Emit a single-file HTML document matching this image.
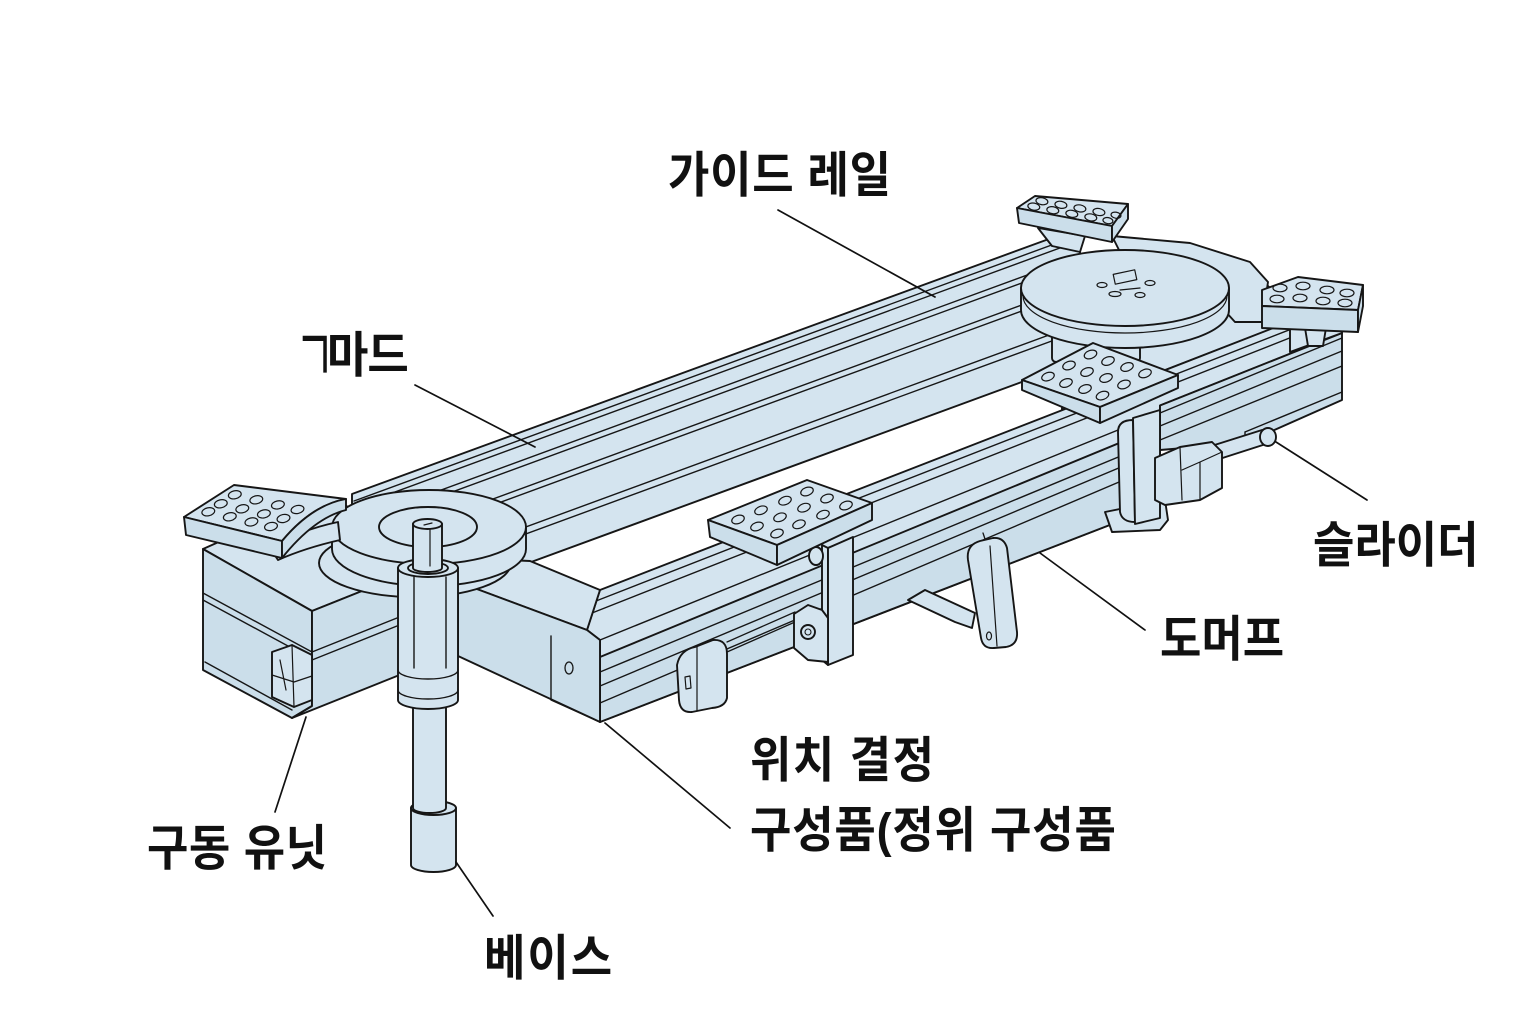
<!DOCTYPE html>
<html><head><meta charset="utf-8"><style>
html,body{margin:0;padding:0;background:#fff;}
svg{display:block}
.lb{font-family:"Liberation Sans","Noto Sans CJK KR",sans-serif;font-size:45px;font-weight:700;fill:#111;}
</style></head><body>
<svg width="1536" height="1024" viewBox="0 0 1536 1024" xmlns="http://www.w3.org/2000/svg">
<rect width="1536" height="1024" fill="#fff"/>
<g stroke="#161616" stroke-width="1.9" stroke-linejoin="round" stroke-linecap="round" fill="#d4e4ef">

<!-- back rail -->
<polygon points="352,494 1080,227.6 1080,360.6 352,627.8"/>
<path fill="none" stroke-width="1.4" d="M354,501 L1080,234.6 M354,507 L1080,240.6 M354,522 L1080,255.6 M354,528 L1080,261.6 M354,550 L1080,283.6 M354,556 L1080,289.6 M354,590 L1080,323.6 M354,597 L1080,330.6"/>

<!-- right cross piece (under disc) -->
<polygon points="1062,300 1250,268 1300,318 1062,410"/>

<!-- front rail -->
<polygon points="600,590 1300,317.6 1300,349.9 1160,405.5 1160,505.6 600,722 600,640 587,630"/>
<polygon fill="#cbdeea" points="600,657 1160,426.2 1160,505.6 600,722"/>
<path fill="none" stroke-width="1.4" d="M596,601 L1300,325.7 M592,613 L1300,333.9 M600,640 L1160,413 M600,672 L1160,439.7 M600,686 L1160,450.6 M600,703 L1160,464.6 M587,630 L600,640"/>
<path fill="none" stroke-width="1.3" d="M727,642 L795,612 M727,652 L795,622"/>

<!-- right block -->
<polygon fill="#cbdeea" points="1160,405.5 1342,333 1342,400 1245,443 1160,450"/>
<polygon points="1290,318 1342,318 1342,333 1290,352"/>
<path fill="none" stroke-width="1.4" d="M1160,413 L1342,338 M1160,426 L1342,351 M1160,440 L1342,366 M1245,432 L1342,392 M1245,432 L1245,443"/>

<!-- box (drive unit) -->
<polygon points="203,549 250,528 345,505 420,556 420,568 402,575 312,611"/>
<polygon fill="#cbdeea" points="203,549 312,611 312,706 292,718 203,670"/>
<polygon fill="#cbdeea" points="312,611 402,575 402,674 292,718 312,706"/>
<path fill="none" stroke-width="1.4" d="M203,593 L312,652 M203,600 L312,659 M205,662 L292,710 M312,652 L402,616 M312,660 L402,624"/>
<polygon points="272,652 292,645 312,655 312,700 294,707 272,697"/>
<path fill="none" stroke-width="1.2" d="M292,645 L294,707 M272,675 L294,682 L312,676 M280,660 L286,690"/>

<!-- left cross piece -->
<polygon points="420,556 530,561 600,590 587,630 458,582 420,568"/>
<polygon fill="#cbdeea" points="458,582 587,630 600,640 600,722 458,656"/>
<path fill="none" stroke-width="1.4" d="M551,636 L551,700 L600,722"/>
<ellipse cx="569" cy="668" rx="4" ry="6" fill="none" stroke-width="1.3"/>

<!-- plate around right disc -->
<polygon points="1112,236 1190,243 1250,262 1268,282 1262,322 1235,322 1215,300 1195,262 1120,252"/>

<!-- top-right pad -->
<polygon points="1038,228 1085,236 1080,252 1052,246"/>
<polygon points="1017,208 1035,196 1128,204 1112,226"/>
<polygon fill="#cbdeea" points="1017,208 1112,226 1112,242 1019,223"/>
<polygon fill="#cbdeea" points="1112,226 1128,204 1128,219 1112,242"/>
<g fill="none" stroke-width="1.2">
<ellipse cx="1033.8" cy="206.6" rx="6" ry="3.5" transform="rotate(10 1033.8 206.6)"/>
<ellipse cx="1052.8" cy="210.2" rx="6" ry="3.5" transform="rotate(10 1052.8 210.2)"/>
<ellipse cx="1071.8" cy="213.8" rx="6" ry="3.5" transform="rotate(10 1071.8 213.8)"/>
<ellipse cx="1090.8" cy="217.4" rx="6" ry="3.5" transform="rotate(10 1090.8 217.4)"/>
<ellipse cx="1107.9" cy="220.6" rx="5" ry="3" transform="rotate(10 1107.9 220.6)"/>
<ellipse cx="1041.9" cy="201.2" rx="6" ry="3.5" transform="rotate(10 1041.9 201.2)"/>
<ellipse cx="1060.9" cy="204.8" rx="6" ry="3.5" transform="rotate(10 1060.9 204.8)"/>
<ellipse cx="1079.9" cy="208.4" rx="6" ry="3.5" transform="rotate(10 1079.9 208.4)"/>
<ellipse cx="1098.9" cy="212" rx="6" ry="3.5" transform="rotate(10 1098.9 212)"/>
<ellipse cx="1116" cy="215.2" rx="5" ry="3" transform="rotate(10 1116 215.2)"/>
</g>

<!-- hub & right disc -->
<rect x="1052" y="318" width="88" height="44" rx="4"/>
<path d="M1021,288 L1021,310 A104,38 0 0 0 1229,310 L1229,288 Z"/>
<ellipse cx="1125" cy="288" rx="104" ry="38"/>
<path fill="none" stroke-width="1.2" d="M1023,296 A102,37 0 0 0 1227,296"/>
<g fill="none" stroke-width="1.2">
<rect x="1114" y="272" width="22" height="10" transform="rotate(-12 1125 277)"/>
<ellipse cx="1102" cy="285" rx="5" ry="2.5"/>
<ellipse cx="1150" cy="283" rx="5" ry="2.5"/>
<ellipse cx="1115" cy="294" rx="6" ry="2.5"/>
<ellipse cx="1140" cy="295" rx="5" ry="2.5"/>
<path d="M1120,290 L1140,288"/>
</g>

<!-- center pad bracket -->
<polygon points="1105,512 1165,500 1168,520 1160,530 1112,532"/>
<path d="M1133,420 Q1118,420 1118,432 L1120,512 Q1122,522 1135,522 Z"/>
<polygon points="1133,418 1160,410 1160,518 1135,524"/>

<!-- center pad -->
<polygon points="1022,380 1093,343 1178,375 1100,407"/>
<polygon fill="#cbdeea" points="1022,380 1100,407 1100,423 1022,390"/>
<polygon fill="#cbdeea" points="1100,407 1178,375 1178,388 1100,423"/>
<g fill="none" stroke-width="1.2">
<ellipse cx="1048" cy="376.6" rx="6.5" ry="4" transform="rotate(-20 1048 376.6)"/>
<ellipse cx="1069" cy="365.5" rx="6.5" ry="4" transform="rotate(-20 1069 365.5)"/>
<ellipse cx="1090.5" cy="354.5" rx="6.5" ry="4" transform="rotate(-20 1090.5 354.5)"/>
<ellipse cx="1066" cy="383" rx="6.5" ry="4" transform="rotate(-20 1066 383)"/>
<ellipse cx="1087" cy="372" rx="6.5" ry="4" transform="rotate(-20 1087 372)"/>
<ellipse cx="1108" cy="361" rx="6.5" ry="4" transform="rotate(-20 1108 361)"/>
<ellipse cx="1085" cy="389" rx="6.5" ry="4" transform="rotate(-20 1085 389)"/>
<ellipse cx="1106" cy="378" rx="6.5" ry="4" transform="rotate(-20 1106 378)"/>
<ellipse cx="1127" cy="367" rx="6.5" ry="4" transform="rotate(-20 1127 367)"/>
<ellipse cx="1102.5" cy="395.6" rx="6.5" ry="4" transform="rotate(-20 1102.5 395.6)"/>
<ellipse cx="1124" cy="384.5" rx="6.5" ry="4" transform="rotate(-20 1124 384.5)"/>
<ellipse cx="1145" cy="373.4" rx="6.5" ry="4" transform="rotate(-20 1145 373.4)"/>
</g>

<!-- right pad -->
<polygon points="1305,328 1326,328 1323,346 1308,346"/>
<polygon points="1262,290 1298,277 1363,285 1358,310 1262,306"/>
<polygon fill="#cbdeea" points="1262,306 1358,310 1358,332 1262,328"/>
<polygon fill="#cbdeea" points="1358,310 1363,285 1363,306 1358,332"/>
<g fill="none" stroke-width="1.2">
<ellipse cx="1280" cy="288" rx="7" ry="3.8"/>
<ellipse cx="1303" cy="286" rx="7" ry="3.8"/>
<ellipse cx="1327" cy="290" rx="7" ry="3.8"/>
<ellipse cx="1347" cy="293" rx="7" ry="3.8"/>
<ellipse cx="1277" cy="299" rx="7" ry="3.8"/>
<ellipse cx="1300" cy="298" rx="7" ry="3.8"/>
<ellipse cx="1323" cy="301" rx="7" ry="3.8"/>
<ellipse cx="1345" cy="303" rx="7" ry="3.8"/>
</g>

<!-- slider -->
<polygon points="1205,448 1262,430 1266,444 1210,462"/>
<ellipse cx="1268" cy="437" rx="8" ry="9"/>
<polygon points="1155,458 1180,447 1212,442 1222,452 1222,488 1200,500 1165,505 1155,500"/>
<path fill="none" stroke-width="1.2" d="M1180,447 L1182,500 M1200,462 L1222,452 M1182,470 L1200,462 L1200,500"/>

<!-- underside link + handle -->
<polygon points="908,600 925,590 975,613 972,628 955,622"/>
<path fill="none" stroke-width="1.3" d="M983,533 L986,542"/>
<path d="M968,560 Q966,545 980,541 L993,538 Q1004,537 1007,548 L1017,632 Q1018,645 1006,647 L994,648 Q983,649 981,638 Z"/>
<path fill="none" stroke-width="1.2" d="M990,546 L997,646"/>
<ellipse cx="989" cy="636" rx="2.5" ry="4" fill="none" stroke-width="1.2"/>

<!-- left-middle pad bracket, hinge, latch -->
<polygon points="822,545 828,548 828,665 822,660"/>
<polygon points="828,548 853,537 853,655 828,665"/>
<polygon points="794,614 808,605 822,610 828,618 828,662 808,660 794,648"/>
<circle cx="808" cy="632" r="7"/>
<circle cx="808" cy="632" r="3" fill="none" stroke-width="1.1"/>
<ellipse cx="816" cy="556" rx="7" ry="9"/>
<path d="M677,665 Q680,650 695,647 L713,640 Q727,639 727,654 L727,698 Q725,707 712,708 L692,712 Q680,713 679,700 Z"/>
<path fill="none" stroke-width="1.2" d="M697,646 L697,711"/>
<path fill="none" stroke-width="1.2" d="M685,677 L690,676 L691,688 L686,689 Z"/>

<!-- left-middle pad -->
<polygon points="708,520 807,480 872,503 777,545"/>
<polygon fill="#cbdeea" points="708,520 777,545 777,565 710,537"/>
<polygon fill="#cbdeea" points="777,545 872,503 872,520 777,565"/>
<g fill="none" stroke-width="1.2">
<ellipse cx="738" cy="519.5" rx="6.5" ry="4" transform="rotate(-20 738 519.5)"/>
<ellipse cx="761" cy="510.3" rx="6.5" ry="4" transform="rotate(-20 761 510.3)"/>
<ellipse cx="785" cy="500.7" rx="6.5" ry="4" transform="rotate(-20 785 500.7)"/>
<ellipse cx="807" cy="491.5" rx="6.5" ry="4" transform="rotate(-20 807 491.5)"/>
<ellipse cx="757" cy="526.5" rx="6.5" ry="4" transform="rotate(-20 757 526.5)"/>
<ellipse cx="780" cy="517.3" rx="6.5" ry="4" transform="rotate(-20 780 517.3)"/>
<ellipse cx="804" cy="507.7" rx="6.5" ry="4" transform="rotate(-20 804 507.7)"/>
<ellipse cx="827" cy="498.5" rx="6.5" ry="4" transform="rotate(-20 827 498.5)"/>
<ellipse cx="777" cy="533.5" rx="6.5" ry="4" transform="rotate(-20 777 533.5)"/>
<ellipse cx="799" cy="524.3" rx="6.5" ry="4" transform="rotate(-20 799 524.3)"/>
<ellipse cx="823" cy="514.7" rx="6.5" ry="4" transform="rotate(-20 823 514.7)"/>
<ellipse cx="846" cy="505.5" rx="6.5" ry="4" transform="rotate(-20 846 505.5)"/>
</g>

<!-- left disc -->
<ellipse cx="415" cy="563" rx="96" ry="34"/>
<path d="M332,527 L332,549 A97,37 0 0 0 526,549 L526,527 Z"/>
<ellipse cx="429" cy="527" rx="97" ry="37"/>
<ellipse cx="428" cy="527" rx="49" ry="20" fill="none"/>

<!-- left pad with belt -->
<path d="M270,548 Q300,530 338,522 L340,540 Q305,548 278,560 Z"/>
<path d="M184,517 L234,485 L346,499 Q312,505 282,541 Z"/>
<polygon fill="#cbdeea" points="184,517 282,541 282,558 186,535"/>
<path fill="#cbdeea" d="M282,541 Q312,505 346,499 L346,510 Q314,518 282,558 Z"/>
<g fill="none" stroke-width="1.2">
<ellipse cx="208.3" cy="511.8" rx="6.5" ry="4" transform="rotate(-12 208.3 511.8)"/>
<ellipse cx="229.8" cy="516.8" rx="6.5" ry="4" transform="rotate(-12 229.8 516.8)"/>
<ellipse cx="251.4" cy="521.9" rx="6.5" ry="4" transform="rotate(-12 251.4 521.9)"/>
<ellipse cx="271" cy="526.5" rx="6.5" ry="4" transform="rotate(-12 271 526.5)"/>
<ellipse cx="220.8" cy="503.8" rx="6.5" ry="4" transform="rotate(-12 220.8 503.8)"/>
<ellipse cx="242.3" cy="508.8" rx="6.5" ry="4" transform="rotate(-12 242.3 508.8)"/>
<ellipse cx="263.9" cy="513.9" rx="6.5" ry="4" transform="rotate(-12 263.9 513.9)"/>
<ellipse cx="283.5" cy="518.5" rx="6.5" ry="4" transform="rotate(-12 283.5 518.5)"/>
<ellipse cx="234.8" cy="494.8" rx="6.5" ry="4" transform="rotate(-12 234.8 494.8)"/>
<ellipse cx="256.3" cy="499.8" rx="6.5" ry="4" transform="rotate(-12 256.3 499.8)"/>
<ellipse cx="277.9" cy="504.9" rx="6.5" ry="4" transform="rotate(-12 277.9 504.9)"/>
<ellipse cx="297.5" cy="509.5" rx="6.5" ry="4" transform="rotate(-12 297.5 509.5)"/>
</g>

<!-- base column -->
<path d="M411,808 L411,865 A22.5,7 0 0 0 456,865 L456,808 Z"/>
<ellipse cx="433.5" cy="808" rx="22.5" ry="7"/>
<path d="M413,700 L413,808 A16.5,5 0 0 0 446,808 L446,700 Z"/>
<path d="M398,568 L398,700 A30,9 0 0 0 458,700 L458,568 Z"/>
<path fill="none" stroke-width="1.4" d="M398,670 A30,9 0 0 0 458,670 M398,690 A30,9 0 0 0 458,690 M414,577 L414,668 M446,577 L446,668"/>
<ellipse cx="428" cy="568" rx="30" ry="9"/>
<ellipse cx="428" cy="568" rx="20" ry="6"/>
<path d="M413,524 L413,568 A14.5,4 0 0 0 442,568 L442,524 Z"/>
<ellipse cx="427.5" cy="524" rx="14.5" ry="5"/>
<path fill="none" stroke-width="1.2" d="M430,529 L430,566 M424,525 L432,523"/>
</g>

<!-- leaders -->
<g stroke="#111" stroke-width="1.7" fill="none" stroke-linecap="round">
<path d="M778,210 L935,297"/>
<path d="M415,385 L535,447"/>
<path d="M1367,500 L1276,442"/>
<path d="M1145,630 L1040,553"/>
<path d="M730,828 L605,723"/>
<path d="M275,812 L306,717"/>
<path d="M493,916 L456,862"/>
</g>

<!-- labels -->
<text class="lb" transform="translate(668,192) scale(1,1.08)" letter-spacing="0.7">가이드 레일</text>
<text class="lb" transform="translate(295,383) scale(0.55,1)" style="font-size:78px;font-weight:400">ㄱ</text>
<text class="lb" transform="translate(327,372) scale(1,1.08)" letter-spacing="-1">마드</text>
<text class="lb" transform="translate(1313,562) scale(1,1.08)" letter-spacing="0">슬라이더</text>
<text class="lb" transform="translate(1160,656) scale(1,1.08)" letter-spacing="0">도머프</text>
<text class="lb" transform="translate(750,777) scale(1,1.08)" letter-spacing="1.5">위치 결정</text>
<text class="lb" transform="translate(750,847) scale(1,1.08)" letter-spacing="0.8">구성품(정위 구성품</text>
<text class="lb" transform="translate(147,865) scale(1,1.08)" letter-spacing="0.5">구동 유닛</text>
<text class="lb" transform="translate(484,975) scale(1,1.08)" letter-spacing="2">베이스</text>
</svg>
</body></html>
